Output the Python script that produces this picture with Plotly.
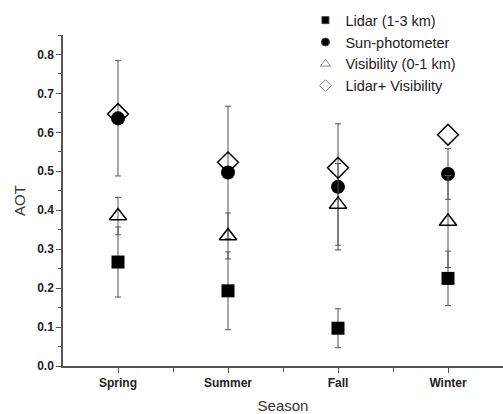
import plotly.graph_objects as go

seasons = ["Spring", "Summer", "Fall", "Winter"]
xpos = [1, 2, 3, 4]

lidar = [0.267, 0.193, 0.097, 0.225]
lidar_err = [0.090, 0.100, 0.050, 0.070]

sun = [0.636, 0.497, 0.460, 0.493]
sun_err = [0.148, 0.170, 0.162, 0.065]

vis = [0.385, 0.334, 0.415, 0.371]
vis_err = [0.048, 0.059, 0.105, 0.118]

lidvis = [0.647, 0.523, 0.509, 0.594]

names = ["Lidar (1-3 km)", "Sun-photometer", "Visibility (0-1 km)", "Lidar+ Visibility"]

err_style = dict(type="data", visible=True, color="#555555", thickness=1, width=3)

fig = go.Figure()
fig.add_trace(go.Scatter(
    x=xpos, y=lidar, mode="markers", name=names[0], showlegend=False,
    marker=dict(symbol="square", size=13, color="black"),
    error_y=dict(array=lidar_err, **err_style)))
fig.add_trace(go.Scatter(
    x=xpos, y=sun, mode="markers", name=names[1], showlegend=False,
    marker=dict(symbol="circle", size=14, color="black"),
    error_y=dict(array=sun_err, **err_style)))
fig.add_trace(go.Scatter(
    x=xpos, y=vis, mode="markers", name=names[2], showlegend=False,
    marker=dict(symbol="triangle-up-open", size=15, color="black", line=dict(width=1.5)),
    error_y=dict(array=vis_err, **err_style)))
fig.add_trace(go.Scatter(
    x=xpos, y=lidvis, mode="markers", name=names[3], showlegend=False,
    marker=dict(symbol="diamond-open", size=16, color="black", line=dict(width=1.5))))

# legend entries with small symbols, as in the reference
leg_symbols = ["square", "circle", "triangle-up-open", "diamond-open"]
leg_colors = ["black", "black", "#888888", "#888888"]
leg_sizes = [7, 8, 9, 9]
for nm, sym, col, sz in zip(names, leg_symbols, leg_colors, leg_sizes):
    fig.add_trace(go.Scatter(
        x=[None], y=[None], mode="markers", name=nm, showlegend=True,
        marker=dict(symbol=sym, size=sz, color=col, line=dict(width=1))))

axis_font = dict(family="Arial, Liberation Sans, sans-serif", size=12, color="#222222")

fig.update_layout(
    width=503, height=414,
    margin=dict(l=63, r=0, t=35, b=48),
    paper_bgcolor="white", plot_bgcolor="white",
    font=dict(family="Arial, Liberation Sans, sans-serif", color="#222222"),
    showlegend=True,
    legend=dict(x=0.551, y=1.093, xanchor="left", yanchor="top",
                font=dict(size=14.5, color="#222222"), bgcolor="rgba(0,0,0,0)",
                itemwidth=30, tracegroupgap=0),
    xaxis=dict(
        range=[0.5, 4.5], tickvals=xpos, ticktext=["<b>%s</b>" % s for s in seasons],
        showgrid=False, zeroline=False, showline=True, linecolor="#555555", linewidth=1.5,
        ticks="outside", ticklen=5, tickcolor="#555555", tickfont=axis_font,
        minor=dict(tickvals=[1.5, 2.5, 3.5], ticks="outside", ticklen=4, tickcolor="#555555"),
        title=dict(text="Season", font=dict(size=15, color="#333333"), standoff=14)),
    yaxis=dict(
        range=[0, 0.85], tickvals=[0, 0.1, 0.2, 0.3, 0.4, 0.5, 0.6, 0.7, 0.8],
        ticktext=["<b>%.1f</b>" % v for v in [0, 0.1, 0.2, 0.3, 0.4, 0.5, 0.6, 0.7, 0.8]],
        showgrid=False, zeroline=False, showline=True, linecolor="#555555", linewidth=1.5,
        ticks="outside", ticklen=5, tickcolor="#555555", tickfont=axis_font,
        minor=dict(dtick=0.05, tick0=0, ticks="outside", ticklen=3, tickcolor="#555555"),
        title=dict(text="AOT", font=dict(size=15, color="#333333"), standoff=8)),
)

fig.write_html("out.html")
